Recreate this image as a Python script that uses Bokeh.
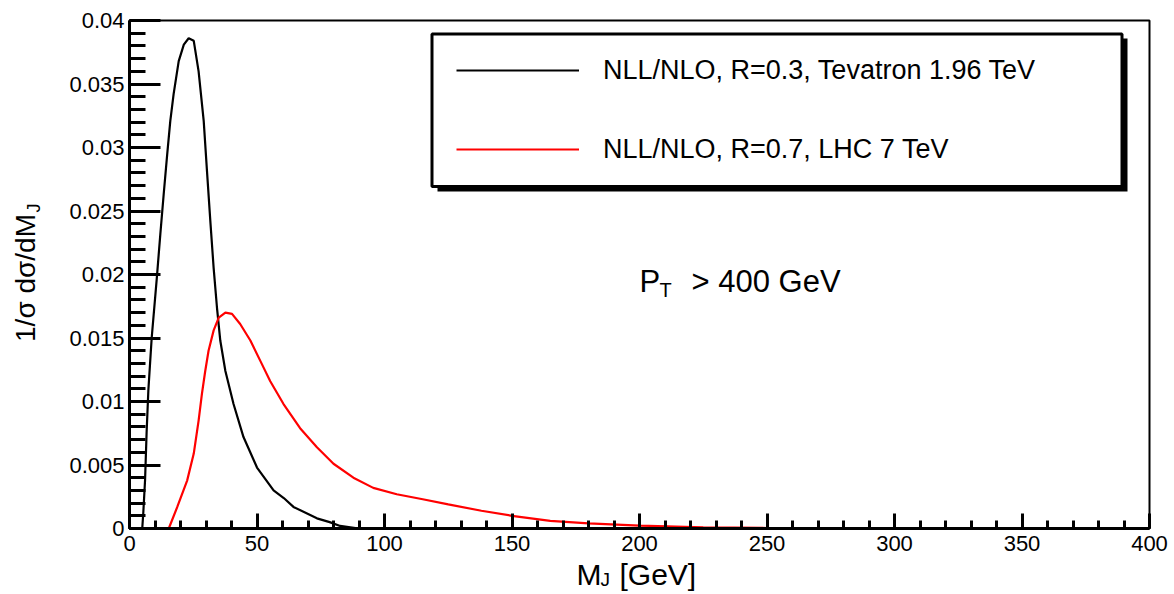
import math
from bokeh.plotting import figure
from bokeh.models import (Range1d, FixedTicker, PrintfTickFormatter, Label, Legend,
                          LegendItem, BoxAnnotation, LinearAxis)
from bokeh.embed import file_html
from bokeh.resources import INLINE

# ---------------- data ----------------
tev_mass = [5.0, 5.4, 6.1, 6.7, 7.4, 8.7, 10.7, 12.1, 13.4, 14.8, 16.0, 17.3, 19.3,
            21.3, 23.2, 25.2, 27.1, 29.1, 30.4, 31.7, 33.0, 34.3, 35.6, 37.6, 40.8,
            44.7, 50.0, 56.5, 60.5, 64.3, 73.5, 78.5, 82.6, 90.0, 125.0]
tev_dist = [0.0, 0.0012, 0.0038, 0.0075, 0.0109, 0.0150, 0.0197, 0.0232, 0.0263,
            0.0295, 0.0321, 0.0342, 0.0368, 0.0381, 0.0386, 0.0384, 0.0360, 0.0321,
            0.0281, 0.0242, 0.0205, 0.0174, 0.0148, 0.0124, 0.0098, 0.0072, 0.0048,
            0.0030, 0.0024, 0.0017, 0.0008, 0.0005, 0.0002, 0.0, 0.0]

lhc_mass = [15.4, 18.7, 22.6, 25.2, 27.1, 28.4, 29.7, 31.0, 33.0, 35.0, 37.6, 40.2,
            43.4, 47.4, 51.3, 55.2, 60.4, 66.9, 73.5, 80.0, 87.8, 95.6, 104.8, 115.0,
            125.0, 138.0, 150.0, 165.0, 180.0, 200.0, 225.0, 250.0, 275.0]
lhc_dist = [0.0, 0.00168, 0.00377, 0.0059, 0.0085, 0.0106, 0.0124, 0.0140, 0.0156,
            0.0166, 0.0170, 0.0169, 0.0161, 0.0148, 0.0132, 0.0116, 0.0098, 0.0079,
            0.0064, 0.0051, 0.0040, 0.0032, 0.0027, 0.0023, 0.0019, 0.0014, 0.0010,
            0.0006, 0.0004, 0.00022, 0.0001, 0.00004, 0.0]

series_labels = ["NLL/NLO, R=0.3, Tevatron 1.96 TeV", "NLL/NLO, R=0.7, LHC 7 TeV"]

x_lo, x_hi = 0, 400
y_lo, y_hi = 0.0, 0.04
x_ticks = [0, 50, 100, 150, 200, 250, 300, 350, 400]
x_minor = [v for v in range(0, 401, 10)]
y_ticks = [0.0, 0.005, 0.01, 0.015, 0.02, 0.025, 0.03, 0.035, 0.04]
y_minor = [i / 1000 for i in range(0, 41)]

# ---------------- layout ----------------
W, H = 1174, 594
FL, FR, FT, FB = 129, 1149, 20, 528   # plot-area edges on the canvas
FONT = "Liberation Sans"
SHIFT = 11  # correction of the label baseline placement

# the Bokeh frame covers the whole canvas; the plot area is placed inside it
sx = (x_hi - x_lo) / (FR - FL)
sy = (y_hi - y_lo) / (FB - FT)
x_range = Range1d(x_lo - FL * sx, x_hi + (W - FR) * sx)
y_range = Range1d(y_lo - (H - FB) * sy, y_hi + FT * sy)

def fx(cx):
    return cx

def fy(cy):
    return H - cy

p = figure(width=W, height=H, output_backend="svg", toolbar_location=None,
           x_range=x_range, y_range=y_range,
           x_axis_location=None, y_axis_location=None,
           min_border=0)
p.grid.visible = False
p.background_fill_color = "white"
p.border_fill_color = "white"
p.outline_line_color = None

r_tev = p.line(tev_mass, tev_dist, line_color="black", line_width=2.2)
r_lhc = p.line(lhc_mass, lhc_dist, line_color="#ff0000", line_width=2.2)

# plot-area frame
p.add_layout(BoxAnnotation(left=x_lo, right=x_hi, bottom=y_lo, top=y_hi,
                           fill_alpha=0, line_color="black", line_width=2,
                           line_alpha=1.0))

xa = LinearAxis(fixed_location=y_lo, bounds=(x_lo, x_hi),
                ticker=FixedTicker(ticks=x_ticks, minor_ticks=x_minor))
xa.axis_line_width = 3
xa.major_tick_in = 15
xa.major_tick_out = 0
xa.minor_tick_in = 8
xa.minor_tick_out = 0
xa.major_tick_line_width = 3
xa.minor_tick_line_width = 3
xa.major_label_text_font = FONT
xa.major_label_text_font_size = "22px"
xa.major_label_text_color = "black"
xa.major_label_standoff = 7
p.add_layout(xa, "below")

ya = LinearAxis(fixed_location=x_lo, bounds=(y_lo, y_hi),
                ticker=FixedTicker(ticks=y_ticks, minor_ticks=y_minor),
                formatter=PrintfTickFormatter(format="%.3g"))
ya.axis_line_width = 3
ya.major_tick_in = 31
ya.major_tick_out = 0
ya.minor_tick_in = 16
ya.minor_tick_out = 0
ya.major_tick_line_width = 3
ya.minor_tick_line_width = 3
ya.major_label_text_font = FONT
ya.major_label_text_font_size = "22px"
ya.major_label_text_color = "black"
ya.major_label_standoff = 5
p.add_layout(ya, "left")

# legend box with shadow
shadow = BoxAnnotation(left=fx(437), right=fx(1127), top=fy(38), bottom=fy(191),
                       left_units="screen", right_units="screen",
                       top_units="screen", bottom_units="screen",
                       fill_color="black", fill_alpha=1.0, line_alpha=0)
box = BoxAnnotation(left=fx(431.5), right=fx(1121.5), top=fy(33.5), bottom=fy(186),
                    left_units="screen", right_units="screen",
                    top_units="screen", bottom_units="screen",
                    fill_color="white", fill_alpha=1.0,
                    line_color="black", line_width=3, line_alpha=1.0)
p.add_layout(shadow)
p.add_layout(box)

legend = Legend(items=[LegendItem(label=series_labels[0], renderers=[r_tev]),
                       LegendItem(label=series_labels[1], renderers=[r_lhc])],
                location=(fx(456) - 10, fy(70.3) - 133 + 27),
                padding=10, margin=0, spacing=45,
                glyph_width=123, glyph_height=34, label_height=34,
                label_standoff=24,
                label_text_font=FONT, label_text_font_size="27px",
                label_text_color="black",
                border_line_alpha=0, background_fill_alpha=0)
p.add_layout(legend)

def lab(text, cx, cy, size, angle=0.0, align="left"):
    p.add_layout(Label(x=fx(cx), y=fy(cy), x_units="screen", y_units="screen",
                       text=text, angle=angle, text_align=align,
                       text_baseline="alphabetic", text_font=FONT,
                       text_font_size=size, text_color="black"))

# P_T > 400 GeV
lab("P", 639, 291.7 - SHIFT, "31px")
lab("T", 659, 300 - SHIFT, "20px")
lab("> 400 GeV", 691, 291.7 - SHIFT, "31px")

# x-axis title M_J [GeV]
lab("M", 576, 585 - SHIFT, "30px")
lab("J", 600, 590 - SHIFT, "19px")
lab("[GeV]", 619, 585 - SHIFT, "30px")

# y-axis title 1/σ dσ/dM_J
lab("1/σ dσ/dM", 36 - SHIFT, 277.5, "28px", angle=math.pi / 2, align="center")
lab("J", 44 - SHIFT, 212, "18px", angle=math.pi / 2, align="left")

open("out.html", "w").write(file_html(p, INLINE))
